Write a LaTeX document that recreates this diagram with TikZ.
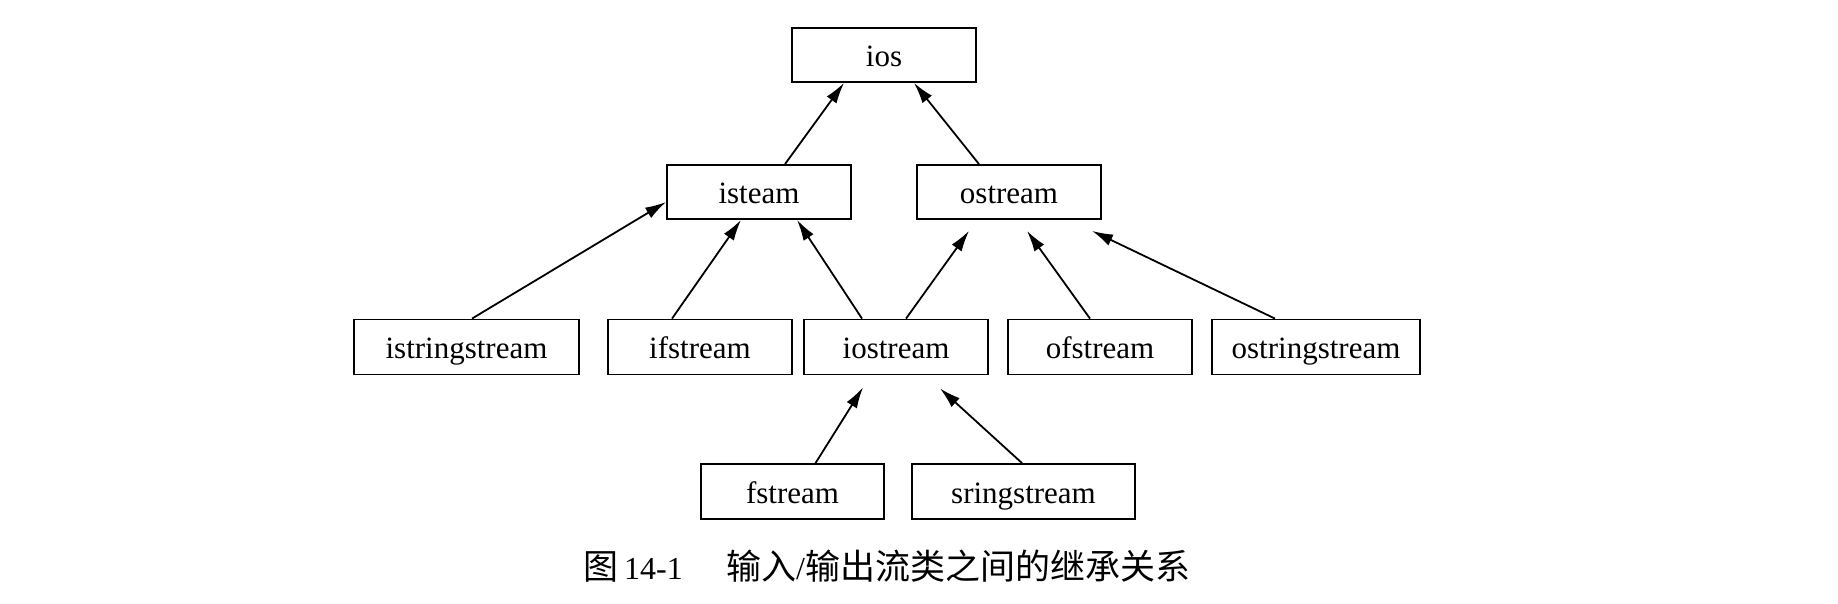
\documentclass[tikz,border=0pt]{standalone}
\usepackage{fontspec}
\setmainfont{Liberation Serif}
\newfontfamily\cjk{Noto Sans CJK SC}
\usetikzlibrary{arrows.meta}
\begin{document}
\begin{tikzpicture}[x=1pt,y=-1pt,
  cls/.style={draw,line width=1.8pt,inner sep=0pt,minimum height=55pt,minimum width=184pt,
    text height=26pt,text depth=3pt,
    font=\fontsize{31}{36}\selectfont},
  arr/.style={line width=1.8pt,-{Latex[length=21pt,width=12pt]}}]
\useasboundingbox (0,0) rectangle (1838,604);
\node[cls,minimum height=54pt] (ios) at (884,55) {ios};
\node[cls,minimum height=54pt] (isteam) at (759,192) {isteam};
\node[cls,minimum height=54pt] (ostream) at (1009,192) {ostream};
\node[cls,minimum width=225pt] (istringstream) at (466.5,347) {istringstream};
\node[cls] (ifstream) at (700,347) {ifstream};
\node[cls] (iostream) at (896,347) {iostream};
\node[cls] (ofstream) at (1100,347) {ofstream};
\node[cls,minimum width=208pt] (ostringstream) at (1316,347) {ostringstream};
\node[cls,minimum width=183pt] (fstream) at (792.5,491.5) {fstream};
\node[cls,minimum width=223pt] (sringstream) at (1023.5,491.5) {sringstream};
\draw[arr] ([xshift=26pt]isteam.north) -- ([xshift=-40pt]ios.south);
\draw[arr] ([xshift=-30pt]ostream.north) -- ([xshift=30pt]ios.south);
\draw[arr] ([xshift=5.5pt]istringstream.north) -- ([yshift=-10pt]isteam.west);
\draw[arr] ([xshift=-28pt]ifstream.north) -- ([xshift=-18pt]isteam.south);
\draw[arr] ([xshift=-34pt]iostream.north) -- ([xshift=38pt]isteam.south);
\draw[arr] ([xshift=10pt]iostream.north) -- ([xshift=-40pt,yshift=-11pt]ostream.south);
\draw[arr] ([xshift=-10pt]ofstream.north) -- ([xshift=18pt,yshift=-11pt]ostream.south);
\draw[arr] ([xshift=-41pt]ostringstream.north) -- ([xshift=83pt,yshift=-11pt]ostream.south);
\draw[arr] ([xshift=23pt]fstream.north) -- ([xshift=-33pt,yshift=-12pt]iostream.south);
\draw[arr] ([xshift=-1.5pt]sringstream.north) -- ([xshift=44pt,yshift=-13pt]iostream.south);
\node[anchor=base west,inner sep=0pt,font=\fontsize{35}{40}\selectfont\cjk] (capa) at (583,579) {图};
\node[anchor=base west,inner sep=0pt,font=\fontsize{32}{38}\selectfont] (capb) at (624,579) {14-1};
\node[anchor=base west,inner sep=0pt,font=\fontsize{32}{38}\selectfont] (capc) at (726,579) {{\cjk\fontsize{35}{40}\selectfont 输入}/{\cjk\fontsize{35}{40}\selectfont 输出流类之间的继承关系}};
\end{tikzpicture}
\end{document}
